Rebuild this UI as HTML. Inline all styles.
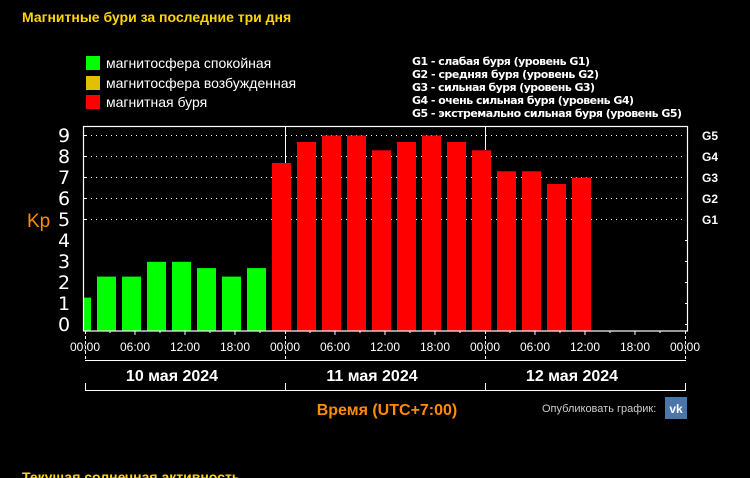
<!DOCTYPE html>
<html><head><meta charset="utf-8"><style>
html,body{margin:0;padding:0;background:#000;}
svg{display:block}
</style></head><body>
<svg width="750" height="478" viewBox="0 0 750 478" xmlns="http://www.w3.org/2000/svg" font-family="Liberation Sans, DejaVu Sans, sans-serif">
<rect width="750" height="478" fill="#000"/>
<text x="22" y="22" font-size="14" font-weight="bold" fill="#ffd700">Магнитные бури за последние три дня</text>
<rect x="86" y="56" width="14" height="14" fill="#00ff00"/>
<rect x="86" y="76" width="14" height="14" fill="#e0c000"/>
<rect x="86" y="95" width="14" height="14" fill="#ff0000"/>
<g font-size="14" fill="#fff">
<text x="106" y="68">магнитосфера спокойная</text>
<text x="106" y="88">магнитосфера возбужденная</text>
<text x="106" y="107">магнитная буря</text>
</g>
<g font-size="11" font-weight="bold" fill="#fff" font-family="DejaVu Sans, sans-serif">
<text x="412" y="65" textLength="178">G1 - слабая буря (уровень G1)</text>
<text x="412" y="78" textLength="187">G2 - средняя буря (уровень G2)</text>
<text x="412" y="91" textLength="183">G3 - сильная буря (уровень G3)</text>
<text x="412" y="104" textLength="222">G4 - очень сильная буря (уровень G4)</text>
<text x="412" y="117" textLength="270">G5 - экстремально сильная буря (уровень G5)</text>
</g>
<g stroke="#fff" stroke-width="1" stroke-dasharray="1,4">
<line x1="86" x2="686" y1="135.5" y2="135.5"/>
<line x1="86" x2="686" y1="156.5" y2="156.5"/>
<line x1="86" x2="686" y1="177.5" y2="177.5"/>
<line x1="86" x2="686" y1="198.5" y2="198.5"/>
<line x1="86" x2="686" y1="219.5" y2="219.5"/>
</g>
<g fill="#00ff00">
<rect x="84" y="297.6" width="7" height="33.4"/>
<rect x="97" y="276.6" width="19" height="54.4"/>
<rect x="122" y="276.6" width="19" height="54.4"/>
<rect x="147" y="261.8" width="19" height="69.2"/>
<rect x="172" y="261.8" width="19" height="69.2"/>
<rect x="197" y="268.1" width="19" height="62.9"/>
<rect x="222" y="276.6" width="19" height="54.4"/>
<rect x="247" y="268.1" width="19" height="62.9"/>
</g>
<g fill="#ff0000">
<rect x="272" y="163" width="19" height="168"/>
<rect x="297" y="142" width="19" height="189"/>
<rect x="322" y="135.5" width="19" height="195.5"/>
<rect x="347" y="135.5" width="19" height="195.5"/>
<rect x="372" y="150.3" width="19" height="180.7"/>
<rect x="397" y="142" width="19" height="189"/>
<rect x="422" y="135.5" width="19" height="195.5"/>
<rect x="447" y="142" width="19" height="189"/>
<rect x="472" y="150.3" width="19" height="180.7"/>
<rect x="497" y="171.3" width="19" height="159.7"/>
<rect x="522" y="171.3" width="19" height="159.7"/>
<rect x="547" y="184" width="19" height="147"/>
<rect x="572" y="177.6" width="19" height="153.4"/>
</g>
<rect x="83.5" y="126.5" width="604" height="204.5" fill="none" stroke="#fff" stroke-width="1.2"/>
<line x1="285.5" y1="126" x2="285.5" y2="163" stroke="#fff"/>
<line x1="485.5" y1="126" x2="485.5" y2="150" stroke="#fff"/>
<g stroke="#fff">
<line x1="83" x2="86" y1="135.5" y2="135.5"/><line x1="83" x2="86" y1="156.5" y2="156.5"/><line x1="83" x2="86" y1="177.5" y2="177.5"/><line x1="83" x2="86" y1="198.5" y2="198.5"/><line x1="83" x2="86" y1="219.5" y2="219.5"/>
<line x1="685" x2="688" y1="240.5" y2="240.5"/><line x1="685" x2="688" y1="261.5" y2="261.5"/><line x1="685" x2="688" y1="282.5" y2="282.5"/><line x1="685" x2="688" y1="303.5" y2="303.5"/><line x1="685" x2="688" y1="324.5" y2="324.5"/>
</g>
<g font-size="19" fill="#fff" text-anchor="middle" font-family="DejaVu Sans, sans-serif">
<text x="64" y="142">9</text><text x="64" y="163">8</text><text x="64" y="184">7</text><text x="64" y="205">6</text><text x="64" y="226">5</text><text x="64" y="247">4</text><text x="64" y="268">3</text><text x="64" y="289">2</text><text x="64" y="310">1</text><text x="64" y="331">0</text>
</g>
<text x="27" y="227" font-size="19" fill="#ff8c00">Kp</text>
<g font-size="12" font-weight="bold" fill="#fff">
<text x="702" y="140">G5</text><text x="702" y="161">G4</text><text x="702" y="182">G3</text><text x="702" y="203">G2</text><text x="702" y="224">G1</text>
</g>
<g stroke="#fff">
<line x1="110" x2="110" y1="331" y2="333"/><line x1="135" x2="135" y1="331" y2="335"/><line x1="160" x2="160" y1="331" y2="333"/><line x1="185" x2="185" y1="331" y2="335"/><line x1="210" x2="210" y1="331" y2="333"/><line x1="235" x2="235" y1="331" y2="335"/><line x1="260" x2="260" y1="331" y2="333"/>
<line x1="310" x2="310" y1="331" y2="333"/><line x1="335" x2="335" y1="331" y2="335"/><line x1="360" x2="360" y1="331" y2="333"/><line x1="385" x2="385" y1="331" y2="335"/><line x1="410" x2="410" y1="331" y2="333"/><line x1="435" x2="435" y1="331" y2="335"/><line x1="460" x2="460" y1="331" y2="333"/>
<line x1="510" x2="510" y1="331" y2="333"/><line x1="535" x2="535" y1="331" y2="335"/><line x1="560" x2="560" y1="331" y2="333"/><line x1="585" x2="585" y1="331" y2="335"/><line x1="610" x2="610" y1="331" y2="333"/><line x1="635" x2="635" y1="331" y2="335"/><line x1="660" x2="660" y1="331" y2="333"/>
<line x1="85.5" x2="85.5" y1="331" y2="361" stroke-dasharray="3,2"/><line x1="285.5" x2="285.5" y1="331" y2="361" stroke-dasharray="3,2"/><line x1="485.5" x2="485.5" y1="331" y2="361" stroke-dasharray="3,2"/><line x1="685.5" x2="685.5" y1="331" y2="361" stroke-dasharray="3,2"/>
<line x1="85" x2="686" y1="360.5" y2="360.5"/>
<line x1="85" x2="686" y1="390.5" y2="390.5"/>
<line x1="85.5" x2="85.5" y1="383" y2="391"/><line x1="285.5" x2="285.5" y1="383" y2="391"/><line x1="485.5" x2="485.5" y1="383" y2="391"/><line x1="685.5" x2="685.5" y1="383" y2="391"/>
</g>
<g font-size="12" fill="#fff" text-anchor="middle">
<text x="85" y="351">00:00</text><text x="135" y="351">06:00</text><text x="185" y="351">12:00</text><text x="235" y="351">18:00</text>
<text x="285" y="351">00:00</text><text x="335" y="351">06:00</text><text x="385" y="351">12:00</text><text x="435" y="351">18:00</text>
<text x="485" y="351">00:00</text><text x="535" y="351">06:00</text><text x="585" y="351">12:00</text><text x="635" y="351">18:00</text>
<text x="685" y="351">00:00</text>
</g>
<g font-size="16" font-weight="bold" fill="#fff" text-anchor="middle">
<text x="172" y="381">10 мая 2024</text><text x="372" y="381">11 мая 2024</text><text x="572" y="381">12 мая 2024</text>
</g>
<text x="387" y="415" font-size="16" font-weight="bold" fill="#ff8c00" text-anchor="middle">Время (UTC+7:00)</text>
<text x="542" y="412" font-size="11" fill="#ccc">Опубликовать график:</text>
<rect x="665" y="397" width="22" height="22" fill="#4a76a8"/>
<text x="676" y="413" font-size="12" font-weight="bold" fill="#fff" text-anchor="middle">vk</text>
<text x="22" y="482" font-size="14" font-weight="bold" fill="#ffd700">Текущая солнечная активность</text>
</svg>
</body></html>
